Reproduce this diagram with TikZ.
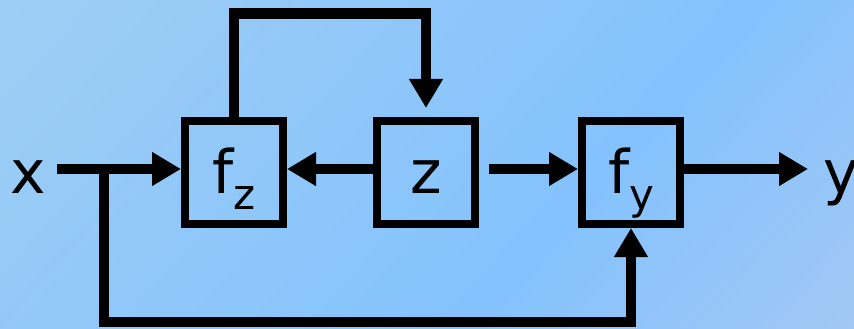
\documentclass[tikz,border=0pt]{standalone}
\usepackage{fontspec}
\setmainfont{DejaVu Sans}
\usetikzlibrary{arrows.meta,positioning}
\definecolor{bgA}{RGB}{158,206,244}
\definecolor{bgB}{RGB}{132,194,253}
\definecolor{bgC}{RGB}{162,200,245}
\pgfdeclarehorizontalshading{bgshade}{100bp}{color(0bp)=(bgA); color(25bp)=(bgA);
  color(58bp)=(bgB); color(75bp)=(bgC); color(100bp)=(bgC)}
\newcommand{\lowsub}[1]{\raisebox{-16pt}{\fontsize{42}{42}\selectfont #1}}
\begin{document}
\begin{tikzpicture}[x=1pt, y=-1pt, node distance=86pt,
    font=\fontsize{60}{60}\selectfont,
    blk/.style={draw, line width=8pt, minimum width=98pt, minimum height=103pt,
      inner sep=0pt, text height=51pt, text depth=10pt},
    lbl/.style={inner sep=0pt, anchor=base},
    arr/.style={line width=10.5pt, -{Triangle[length=29pt,width=32pt]}}]
    \useasboundingbox (0,0) rectangle (854,329);
    \begin{scope}
      \clip (0,0) rectangle (854,329);
      \shade[shading=bgshade, transform canvas={rotate=-42}] (0,-700) rectangle (855,700);
    \end{scope}

    \node[blk] (fz) at (234,172.5) {f\lowsub{z}};
    \node[blk] (z) [right=of fz] {z};
    \node[blk] (fy) [right=99pt of z] {f\lowsub{y}};
    \node[lbl] (xlbl) at (28,193) {x};
    \node[lbl] (ylbl) at (841,193) {y};

    \coordinate (xin) at (57,169);
    \coordinate (br) at (104,169);
    \coordinate (bot) at (104,322);
    \coordinate (top) at (0,13.5);
    \coordinate (yout) at (808,169);

    \draw[arr] (xin) -- (xin -| fz.west);
    \draw[arr] (br) -- (bot) -| (fy.south);
    \draw[arr, shorten >=9pt] (fz.north) -- (fz.north |- top) -| (z.north);
    \draw[arr] (z.west |- xin) -- (fz.east |- xin);
    \draw[arr, shorten <=10pt] (z.east |- xin) -- (fy.west |- xin);
    \draw[arr] (fy.east |- xin) -- (yout);
\end{tikzpicture}
\end{document}
